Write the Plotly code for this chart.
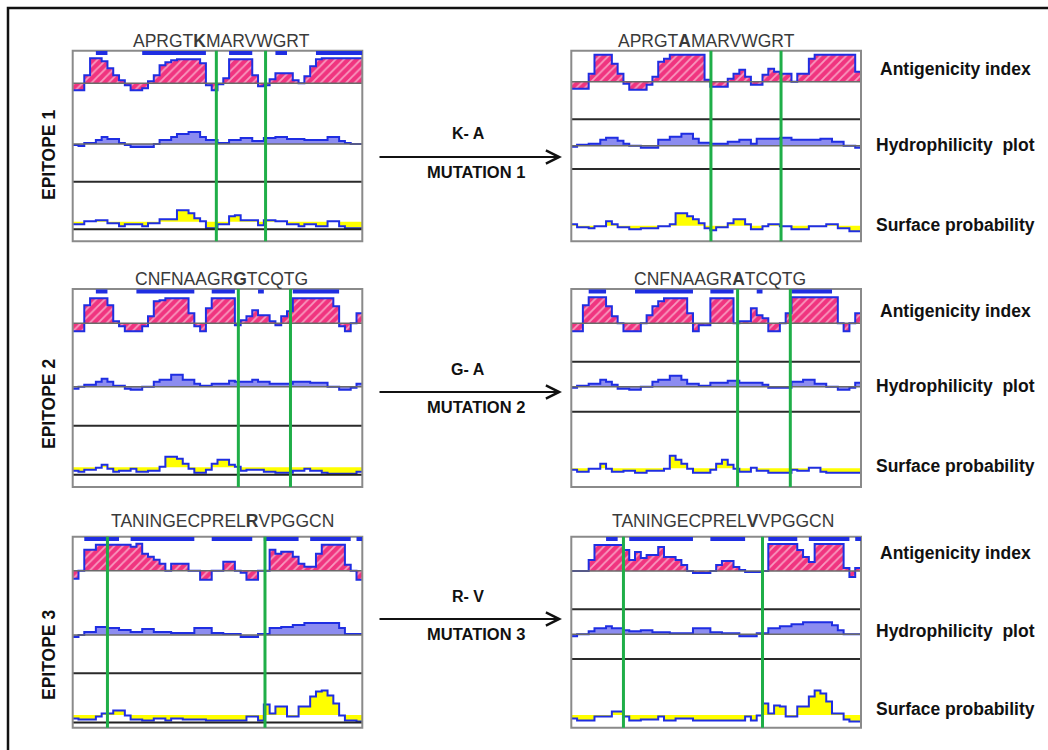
import plotly.graph_objects as go

# ---------------- data ----------------
N = 50                      # residue windows per profile
SURF_THRESHOLD = 7.5        # surface-probability threshold (fill reference)

# Epitope 1 : wild type (left) and mutant K->A (right)
E1_WT_AG = [-7,-7,8,25,25,22,15,8,3,-2, -7,-7,-5,2,8,18,21,23,24,24,
            24,24,20,-2,-7,-1,5,24,24,24, 24,8,-3,-2,4,10,10,10,3,0,
            7,17,24,25,25,25,25,25,25,25]
E1_WT_HY = [-1,-2,1,1,4,7,5,5,1,-1, -3,-3,-3,-3,0,4,4,7,10,10,
            12,12,7,4,4,1,1,4,4,6, 6,3,3,6,6,7,7,5,5,5,
            4,4,4,4,7,7,3,1,0,0]
E1_WT_SF = [5,5,8,8,9,9,6,6,3,5, 5,5,3,6,6,10,10,10,19,19,
            16,11,8,1,1,5,5,13,14,9, 9,9,4,9,9,8,8,5,5,3,
            5,5,3,3,8,8,3,1,1,1]
E1_WT_BAR = [0,0,0,0,1,1,0,0,0,0, 0,0,1,1,1,1,1,1,1,1,
             1,1,1,0,0,0,0,1,1,1, 1,0,0,0,0,1,1,0,0,0,
             0,0,1,1,1,1,1,1,1,1]
E1_WT_WINDOW = [24.8, 33.3]

E1_MUT_AG = [-7,-7,-7,8,27,27,27,18,8,-2, -8,-8,-8,-3,5,20,23,27,27,27,
             27,27,27,2,-5,-5,-5,3,8,12, 5,-3,-3,7,13,10,8,8,0,8,
             8,23,27,27,27,27,27,27,27,10]
E1_MUT_HY = [-1,1,1,2,2,6,8,8,5,2, 0,0,-2,-2,-2,6,6,9,9,12,
             12,7,3,3,2,2,2,4,4,6, 6,2,7,7,7,7,8,8,6,6,
             6,6,6,7,7,4,4,0,0,-2]
E1_MUT_SF = [9,6,6,5,7,7,12,9,6,6, 4,4,5,5,5,7,7,9,20,20,
             17,14,10,5,3,6,6,10,14,14, 9,4,4,7,9,9,7,7,4,4,
             4,7,7,7,9,9,5,5,2,2]
E1_MUT_BAR = [0] * 50
E1_MUT_WINDOW = [24.1, 36.2]

# Epitope 2 : wild type (left) and mutant G->A (right)
E2_WT_AG = [-8,-8,18,25,25,25,18,2,-3,-8, -8,-8,-3,7,22,23,25,25,25,25,
            10,-3,-8,15,25,25,25,25,-2,3, 7,13,8,8,2,-2,7,12,25,25,
            25,25,25,25,25,17,-3,-8,0,10]
E2_WT_HY = [-2,0,2,2,5,8,5,1,1,-2, -3,-3,0,0,5,7,7,12,12,7,
            7,3,1,1,3,3,3,6,5,5, 5,7,5,5,3,3,3,3,5,5,
            5,4,4,4,0,0,-3,-3,-1,3]
E2_WT_SF = [4,3,5,5,7,10,6,3,4,4, 6,3,3,4,4,8,18,18,16,11,
            6,2,2,5,11,15,15,10,8,4, 5,5,5,3,3,2,2,2,4,4,
            6,4,4,2,1,1,1,1,1,3]
E2_WT_BAR = [0,0,0,0,1,1,0,0,0,0, 0,1,1,1,1,1,1,1,1,1,
             1,0,0,0,1,1,1,1,0,0, 0,0,1,0,0,0,0,0,1,1,
             1,1,1,1,1,1,0,0,0,0]
E2_WT_WINDOW = [28.6, 37.6]

E2_MUT_AG = [-8,-8,18,26,26,26,17,7,0,-8, -8,-8,0,8,17,22,25,25,25,25,
             10,-8,-2,-2,25,25,25,25,0,2, 2,15,8,5,-8,-8,0,10,26,26,
             26,26,26,26,26,26,0,-8,0,10]
E2_MUT_HY = [-1,1,1,3,3,7,5,2,-2,-2, -3,-3,0,0,5,7,7,11,11,7,
             3,3,1,1,4,4,4,6,6,4, 4,4,4,2,-1,-1,-1,-1,5,5,
             7,7,3,3,0,0,-3,-3,-1,4]
E2_MUT_SF = [6,4,4,7,7,12,7,4,4,5, 5,3,3,5,5,5,7,20,16,12,
             7,3,3,3,6,12,16,11,7,4, 4,8,5,5,3,3,3,3,6,5,
             5,8,8,4,3,3,3,3,3,3]
E2_MUT_BAR = [0,0,0,1,1,1,0,0,0,0, 0,1,1,1,1,1,1,1,1,1,
              1,0,0,0,1,1,1,1,0,0, 0,0,1,0,0,0,0,0,1,1,
              1,1,1,1,1,0,0,0,0,0]
E2_MUT_WINDOW = [28.7, 37.8]

# Epitope 3 : wild type (left) and mutant R->V (right)
E3_WT_AG = [-8,0,21,21,26,26,26,26,26,26, 24,27,17,14,11,7,0,7,7,7,
            0,0,-9,-9,0,0,9,9,0,-2, -9,-9,0,0,21,17,19,19,14,7,
            4,4,17,26,26,26,26,6,0,-9]
E3_WT_HY = [-2,0,3,3,8,8,7,7,5,5, 3,3,6,6,3,3,3,2,2,2,
            2,7,7,7,2,2,1,1,1,-2, -2,-2,1,1,7,7,8,8,10,10,
            12,12,12,12,12,12,7,1,1,1]
E3_WT_SF = [4,3,3,3,6,9,9,12,12,7, 3,3,2,2,4,4,2,4,4,3,
            3,3,3,2,2,2,2,2,2,2, 6,6,2,18,9,16,16,6,6,16,
            16,26,31,32,27,19,7,2,2,1]
E3_WT_BAR = [0,0,1,1,1,1,1,1,0,0, 1,1,1,1,1,1,1,1,1,1,
             1,0,0,0,1,1,1,1,1,1, 1,0,0,1,1,1,1,1,1,0,
             0,1,1,1,1,1,1,1,0,1]
E3_WT_WINDOW = [6.0, 33.2]

E3_MUT_AG = [0,0,0,11,26,26,26,26,26,21, 11,19,13,16,16,24,14,14,11,6,
             0,-2,-2,-2,0,6,10,10,4,1, -1,-1,-1,0,27,27,27,27,27,21,
             14,9,27,27,27,27,27,3,-6,3]
E3_MUT_HY = [-2,0,0,3,6,6,8,6,6,4, 3,3,4,4,2,2,2,1,1,1,
             1,6,6,6,2,2,1,1,1,-2, -2,-2,1,1,6,6,8,8,10,10,
             12,12,12,12,12,9,4,0,0,0]
E3_MUT_SF = [4,2,2,2,6,6,6,11,11,6, 2,2,3,3,3,6,2,2,4,4,
             4,2,2,2,2,2,2,2,2,2, 6,2,7,19,9,17,16,6,6,16,
             16,26,32,29,21,9,9,3,1,1]
E3_MUT_BAR = [0,0,0,0,0,0,1,1,0,0, 1,1,1,1,1,1,1,1,1,1,
              1,0,0,0,1,1,1,1,1,1, 0,0,0,0,1,1,1,1,1,0,
              0,1,1,1,1,1,1,1,0,1]
E3_MUT_WINDOW = [9.0, 33.0]

TITLES = ["APRGT<b>K</b>MARVWGRT", "APRGT<b>A</b>MARVWGRT",
          "CNFNAAGR<b>G</b>TCQTG", "CNFNAAGR<b>A</b>TCQTG",
          "TANINGECPREL<b>R</b>VPGGCN", "TANINGECPREL<b>V</b>VPGGCN"]
MUTATIONS = ["K- A", "G- A", "R- V"]
MUTATION_NAMES = ["MUTATION 1", "MUTATION 2", "MUTATION 3"]
EPITOPES = ["EPITOPE 1", "EPITOPE 2", "EPITOPE 3"]
TRACK_LABELS = ["Antigenicity index", "Hydrophilicity  plot", "Surface probability"]

# ---------------- layout geometry (pixels) ----------------
W, H = 1048, 750
def fx(x): return x / W
def fy(y): return 1 - y / H

LEFT_X = (72.7, 362.3)
RIGHT_X = (571.3, 861.0)
ROWS = [(50.7, 241.2), (289.0, 487.0), (536.7, 727.7)]

BLUE = '#1f2ee2'
PINK = '#f0347f'
LAV = '#8c8cf0'
YEL = '#ffff00'
GREEN = '#1fae48'
FONT = 'Liberation Sans, Arial, sans-serif'

panels = [
    dict(ag=E1_WT_AG, hy=E1_WT_HY, sf=E1_WT_SF, bar=E1_WT_BAR, win=E1_WT_WINDOW,
         cols=LEFT_X, row=0, base=(83.3, 144.0, 221.7), seps=[181.7], zero=True, tx=221, ty=40.5),
    dict(ag=E1_MUT_AG, hy=E1_MUT_HY, sf=E1_MUT_SF, bar=E1_MUT_BAR, win=E1_MUT_WINDOW,
         cols=RIGHT_X, row=0, base=(81.7, 145.7, 225.7), seps=[119.3, 169.0], zero=False, tx=706, ty=40.5),
    dict(ag=E2_WT_AG, hy=E2_WT_HY, sf=E2_WT_SF, bar=E2_WT_BAR, win=E2_WT_WINDOW,
         cols=LEFT_X, row=1, base=(323.3, 386.7, 467.3), seps=[425.7], zero=True, tx=221, ty=279),
    dict(ag=E2_MUT_AG, hy=E2_MUT_HY, sf=E2_MUT_SF, bar=E2_MUT_BAR, win=E2_MUT_WINDOW,
         cols=RIGHT_X, row=1, base=(323.3, 386.7, 468.3), seps=[361.7, 411.7], zero=False, tx=720, ty=279),
    dict(ag=E3_WT_AG, hy=E3_WT_HY, sf=E3_WT_SF, bar=E3_WT_BAR, win=E3_WT_WINDOW,
         cols=LEFT_X, row=2, base=(570.7, 635.0, 715.0), seps=[673.3], zero=True, tx=222, ty=520.5),
    dict(ag=E3_MUT_AG, hy=E3_MUT_HY, sf=E3_MUT_SF, bar=E3_MUT_BAR, win=E3_MUT_WINDOW,
         cols=RIGHT_X, row=2, base=(571.0, 634.3, 715.0), seps=[609.3, 659.0], zero=False, tx=723, ty=520.5),
]

def runs(flags):
    out, i = [], 0
    while i < len(flags):
        if flags[i]:
            j = i
            while j < len(flags) and flags[j]:
                j += 1
            out.append((i, j))
            i = j
        else:
            i += 1
    return out

fig = go.Figure()
axes = {}
shapes_back, shapes_front, annotations = [], [], []
xs = list(range(N + 1))

for k, p in enumerate(panels):
    xn = 'x' if k == 0 else f'x{k+1}'
    xkey = 'xaxis' if k == 0 else f'xaxis{k+1}'
    yn = ['y' if 3*k + j == 0 else f'y{3*k+j+1}' for j in range(3)]
    yk = ['yaxis' if 3*k + j == 0 else f'yaxis{3*k+j+1}' for j in range(3)]
    x0, x1 = p['cols']
    top, bot = ROWS[p['row']]
    agb, hyb, thr = p['base']
    sfb = thr + SURF_THRESHOLD
    axes[xkey] = dict(domain=[fx(x0), fx(x1)], range=[0, N], visible=False, fixedrange=True, anchor=yn[0])
    axes[yk[0]] = dict(domain=[fy(bot), fy(top)], range=[agb - bot, agb - top], visible=False,
                       fixedrange=True, anchor=xn)
    axes[yk[1]] = dict(overlaying=yn[0], range=[hyb - bot, hyb - top], visible=False, fixedrange=True, anchor=xn)
    axes[yk[2]] = dict(overlaying=yn[0], range=[sfb - bot, sfb - top], visible=False, fixedrange=True, anchor=xn)

    ag = p['ag'] + [p['ag'][-1]]
    hy = p['hy'] + [p['hy'][-1]]
    sf = p['sf'] + [p['sf'][-1]]

    fig.add_trace(go.Scatter(x=xs, y=ag, xaxis=xn, yaxis=yn[0], mode='lines',
                             line=dict(color=BLUE, width=2, shape='hv'), fill='tozeroy', fillcolor=PINK,
                             fillpattern=dict(shape='/', bgcolor=PINK, fgcolor='white', size=6, solidity=0.3),
                             hoverinfo='skip', showlegend=False))
    fig.add_trace(go.Scatter(x=xs, y=hy, xaxis=xn, yaxis=yn[1], mode='lines',
                             line=dict(color=BLUE, width=2, shape='hv'), fill='tozeroy', fillcolor=LAV,
                             hoverinfo='skip', showlegend=False))
    fig.add_trace(go.Scatter(x=[0, N], y=[SURF_THRESHOLD, SURF_THRESHOLD], xaxis=xn, yaxis=yn[2], mode='lines',
                             line=dict(color=YEL, width=0), hoverinfo='skip', showlegend=False))
    fig.add_trace(go.Scatter(x=xs, y=sf, xaxis=xn, yaxis=yn[2], mode='lines',
                             line=dict(color=BLUE, width=2, shape='hv'), fill='tonexty', fillcolor=YEL,
                             hoverinfo='skip', showlegend=False))

    # baselines
    for yy, col, wd in [(yn[0], '#6a6a6a', 1.5), (yn[1], '#6a6a6a', 1.5)]:
        shapes_back.append(dict(type='line', xref=f'{xn} domain', x0=0, x1=1, yref=yy, y0=0, y1=0,
                                line=dict(color=col, width=wd)))
    if p['zero']:
        shapes_back.append(dict(type='line', xref=f'{xn} domain', x0=0, x1=1, yref=yn[2], y0=0, y1=0,
                                line=dict(color='#222', width=2)))
    # separators
    for s in p['seps']:
        shapes_back.append(dict(type='line', xref='paper', yref='paper', x0=fx(x0), x1=fx(x1),
                                y0=fy(s), y1=fy(s), line=dict(color='#2a2a2a', width=2)))
    # panel box
    shapes_back.append(dict(type='rect', xref='paper', yref='paper', x0=fx(x0), x1=fx(x1),
                            y0=fy(bot), y1=fy(top), line=dict(color='#8a8a8a', width=2)))
    # top bars of antigenic regions
    for a, b in runs(p['bar']):
        shapes_front.append(dict(type='line', xref=xn, x0=a, x1=b, yref=f'{yn[0]} domain', y0=0.988, y1=0.988,
                                 line=dict(color=BLUE, width=4)))
    # epitope window lines
    for w in p['win']:
        shapes_front.append(dict(type='line', xref=xn, x0=w, x1=w, yref='paper', y0=fy(bot), y1=fy(top),
                                 line=dict(color=GREEN, width=3)))
    # title sequence
    annotations.append(dict(x=fx(p['tx']), y=fy(p['ty']), xref='paper', yref='paper', text=TITLES[k],
                            showarrow=False, font=dict(family=FONT, size=17.5, color='#3a3a3a'),
                            xanchor='center', yanchor='middle'))

# side labels
LABEL_Y = [[69, 145, 225], [311, 386, 466], [553, 631, 709]]
for r in range(3):
    for j in range(3):
        annotations.append(dict(x=fx(955), y=fy(LABEL_Y[r][j]), xref='paper', yref='paper',
                                text=f'<b>{TRACK_LABELS[j]}</b>', showarrow=False,
                                font=dict(family=FONT, size=17.5, color='#111'),
                                xanchor='center', yanchor='middle'))

# mutation arrows + text
ARROW_Y = [157, 392, 619]
for r in range(3):
    ay = ARROW_Y[r]
    annotations.append(dict(x=fx(562), y=fy(ay), ax=-184, ay=0, xref='paper', yref='paper',
                            axref='pixel', ayref='pixel', text='', showarrow=True, arrowhead=5,
                            arrowsize=1.3, arrowwidth=2, arrowcolor='#111'))
    annotations.append(dict(x=fx(468), y=fy(ay - 23), xref='paper', yref='paper',
                            text=f'<b>{MUTATIONS[r]}</b>', showarrow=False,
                            font=dict(family=FONT, size=16, color='#111'), xanchor='center', yanchor='middle'))
    annotations.append(dict(x=fx(476), y=fy(ay + 15), xref='paper', yref='paper',
                            text=f'<b>{MUTATION_NAMES[r]}</b>', showarrow=False,
                            font=dict(family=FONT, size=16.5, color='#111'), xanchor='center', yanchor='middle'))

# epitope labels
EP_Y = [155, 404, 655]
for r in range(3):
    annotations.append(dict(x=fx(49), y=fy(EP_Y[r]), xref='paper', yref='paper',
                            text=f'<b>{EPITOPES[r]}</b>', showarrow=False, textangle=-90,
                            font=dict(family=FONT, size=17.5, color='#111'), xanchor='center', yanchor='middle'))

# outer frame
shapes_back.insert(0, dict(type='rect', xref='paper', yref='paper', x0=fx(8), x1=fx(1062), y0=fy(764), y1=fy(8),
                           line=dict(color='#111', width=2.5)))

fig.update_layout(width=W, height=H, margin=dict(l=0, r=0, t=0, b=0), autosize=False,
                  paper_bgcolor='white', plot_bgcolor='rgba(0,0,0,0)',
                  shapes=shapes_back + shapes_front, annotations=annotations, showlegend=False, **axes)

fig.write_html("out.html", config={'displayModeBar': False},
               post_script="document.body.style.margin='0';document.body.style.overflow='hidden';")
